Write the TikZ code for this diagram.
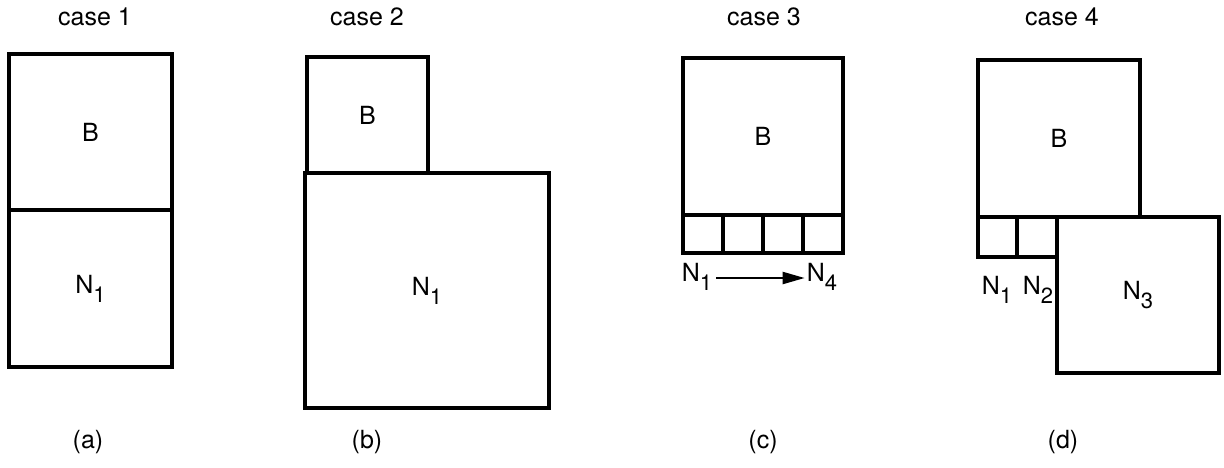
\documentclass[tikz,border=0pt]{standalone}
\usepackage{fontspec}
\setmainfont{TeX Gyre Heros}
\usetikzlibrary{arrows.meta}
% lowered index digit, as in N1, N2 ...
\newcommand\lowidx[1]{\raisebox{-0.36em}{\fontsize{22}{22}\selectfont #1}}
\begin{document}
\begin{tikzpicture}[x=1pt,y=-1pt,
  blk/.style={draw, line width=3.4pt, inner sep=0pt, outer sep=0pt,
              font=\fontsize{25}{30}\selectfont},
  lbl/.style={inner sep=0pt, font=\fontsize{25}{30}\selectfont},
  flow/.style={line width=2.2pt, -{Triangle[length=22pt,width=12pt]}},
  ]
\useasboundingbox (0,0) rectangle (1224,467);

% ---------- case 1 ----------
\node[lbl, anchor=base] (t1) at (95,25) {case 1};
\node[blk, minimum width=163pt, minimum height=156pt] (b1) at (90.5,132) {B};
\node[blk, minimum width=163pt, minimum height=157pt] (n1a) at (90.5,288.5) {N\lowidx{1}};
\node[lbl, anchor=base] (la) at (88,448) {(a)};

% ---------- case 2 ----------
\node[lbl, anchor=base] (t2) at (367,25) {case 2};
\node[blk, minimum width=121pt, minimum height=116pt] (b2) at (367.5,115) {B};
\node[blk, minimum width=244pt, minimum height=235pt] (n1b) at (427,290.5) {N\lowidx{1}};
\node[lbl, anchor=base] (lb) at (367,448) {(b)};

% ---------- case 3 ----------
\node[lbl, anchor=base] (t3) at (764,25) {case 3};
\node[blk, minimum width=160pt, minimum height=157pt] (b3) at (763,136.5) {B};
\foreach \i/\x in {1/703,2/743,3/783,4/823}
  \node[blk, minimum width=40pt, minimum height=38pt] (c\i) at (\x,234) {};
\node[lbl] (m1) at (697,277) {N\lowidx{1}};
\node[lbl] (m4) at (822,277) {N\lowidx{4}};
\draw[flow] ([xshift=4pt,yshift=-1pt]m1.east) -- ([xshift=-2pt,yshift=-1pt]m4.west);
\node[lbl, anchor=base] (lc) at (763,448) {(c)};

% ---------- case 4 ----------
\node[lbl, anchor=base] (t4) at (1062,25) {case 4};
\node[blk, minimum width=162pt, minimum height=157pt] (b4) at (1059,138.5) {B};
\node[blk, minimum width=39pt, minimum height=40pt] (d1) at (997.5,237) {};
\node[blk, minimum width=40pt, minimum height=40pt] (d2) at (1037,237) {};
\node[blk, minimum width=162pt, minimum height=156pt] (n3) at (1138,295) {N\lowidx{3}};
\node[lbl] (k1) at (997,290) {N\lowidx{1}};
\node[lbl] (k2) at (1038,290) {N\lowidx{2}};
\node[lbl, anchor=base] (ld) at (1063,448) {(d)};
\end{tikzpicture}
\end{document}
